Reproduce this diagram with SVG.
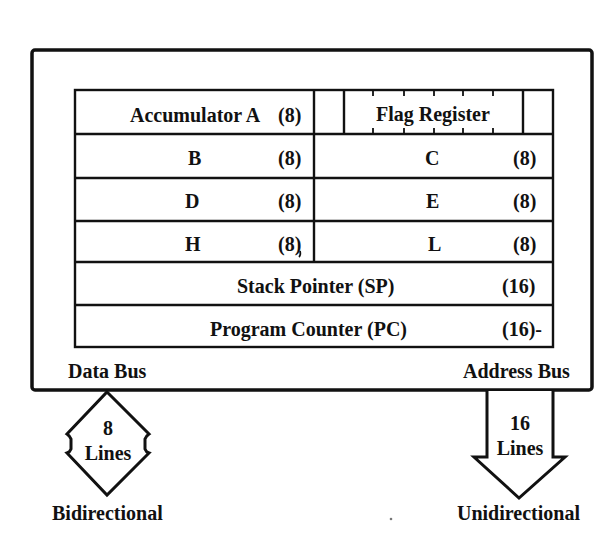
<svg xmlns="http://www.w3.org/2000/svg" width="602" height="549" viewBox="0 0 602 549">
  <style>
    .t { font-family: "Liberation Serif", "Times New Roman", serif; font-weight: bold; font-size: 20px; fill: #111; }
    .c { text-anchor: middle; }
    .box { fill: none; stroke: #111; stroke-width: 3.5; stroke-linejoin: round; }
    .cell { fill: #fff; stroke: #111; stroke-width: 2.4; }
    .ln { fill: none; stroke: #111; stroke-width: 2.4; }
    .tick { stroke: #111; stroke-width: 1.8; }
    .bus { fill: #fff; stroke: #111; stroke-width: 3; stroke-linejoin: miter; }
  </style>

  <!-- processor outline -->
  <g id="cpu">
    <rect class="box" x="32" y="50" width="560" height="340" rx="3"/>
    <text class="t" x="68" y="378">Data Bus</text>
    <text class="t" x="463" y="378">Address Bus</text>
  </g>

  <!-- register file -->
  <g id="registers">
    <rect class="cell" x="75" y="90" width="478" height="257"/>
    <path class="ln" d="M75 134H553 M75 178H553 M75 221H553 M75 262H553 M75 305H553 M314 90V262"/>
  </g>

  <g id="reg-a">
    <text class="t" x="130" y="122">Accumulator A</text>
    <text class="t" x="278" y="122">(8)</text>
  </g>

  <g id="reg-flags">
    <path class="ln" d="M344 90V134 M523 90V134"/>
    <path class="tick" d="M373 90V96 M404 90V96 M434 90V96 M463 90V96 M493 90V96 M373 128V134 M404 128V134 M434 128V134 M463 128V134 M493 128V134"/>
    <text class="t" x="376" y="121">Flag Register</text>
  </g>

  <g id="reg-b">
    <text class="t" x="188" y="165">B</text>
    <text class="t" x="278" y="165">(8)</text>
  </g>
  <g id="reg-c">
    <text class="t" x="425" y="165">C</text>
    <text class="t" x="513" y="165">(8)</text>
  </g>
  <g id="reg-d">
    <text class="t" x="185" y="208">D</text>
    <text class="t" x="278" y="208">(8)</text>
  </g>
  <g id="reg-e">
    <text class="t" x="426" y="208">E</text>
    <text class="t" x="513" y="208">(8)</text>
  </g>
  <g id="reg-h">
    <text class="t" x="185" y="251">H</text>
    <text class="t" x="278" y="251">(8)</text>
    <!-- small pen stroke trailing from the closing bracket -->
    <path d="M300 251q1 4 -1 6" fill="none" stroke="#111" stroke-width="1.8"/>
  </g>
  <g id="reg-l">
    <text class="t" x="428" y="251">L</text>
    <text class="t" x="513" y="251">(8)</text>
  </g>
  <g id="reg-sp">
    <text class="t" x="237" y="293">Stack Pointer (SP)</text>
    <text class="t" x="502" y="293">(16)</text>
  </g>
  <g id="reg-pc">
    <text class="t" x="210" y="336">Program Counter (PC)</text>
    <text class="t" x="502" y="336">(16)-</text>
  </g>

  <!-- external buses -->
  <g id="connectors">
    <g id="data-bus">
      <path class="bus" d="M107 392 L149 434 Q146 436 145 439 L145 449 Q146 452 149 453 L107 495 L67 453 Q70 452 71 449 L71 439 Q70 436 67 434 Z"/>
      <text class="t c" x="108" y="435">8</text>
      <text class="t c" x="108" y="460">Lines</text>
      <text class="t" x="52" y="520">Bidirectional</text>
    </g>
    <g id="address-bus">
      <path class="bus" d="M487 391 V457 H474 L519 498 L565 457 H553 V391"/>
      <text class="t c" x="520" y="430">16</text>
      <text class="t c" x="520" y="455">Lines</text>
      <text class="t" x="457" y="520">Unidirectional</text>
    </g>
  </g>

  <circle cx="391" cy="519" r="1.3" fill="#777"/>
</svg>
